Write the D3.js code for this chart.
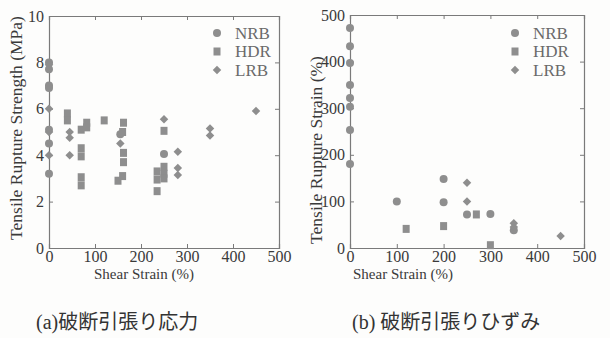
<!DOCTYPE html>
<html>
<head>
<meta charset="utf-8">
<script src="https://cdn.jsdelivr.net/npm/d3@7"></script>
<style>
  body { margin: 0; background: #fdfdfc; }
</style>
</head>
<body>
<div id="chart"></div>
<script>
// shear strain ticks shared by both panels
var shearTicks = [0, 100, 200, 300, 400, 500];
var strengthTicks = [0, 2, 4, 6, 8, 10];
var strainTicks = [0, 100, 200, 300, 400, 500];
var seriesNames = ["NRB", "HDR", "LRB"];

// (a) tensile rupture strength (MPa) vs shear strain (%)
var strengthNRB = [[0, 8.0], [0, 7.7], [0, 7.0], [0, 6.9], [0, 5.1], [0, 4.5], [0, 3.2], [155, 4.9], [250, 4.05]];
var strengthHDR = [[40, 5.8], [40, 5.5], [70, 5.1], [70, 4.3], [70, 3.95], [70, 3.05], [70, 2.7], [82, 5.4], [82, 5.2],
  [120, 5.5], [162, 5.4], [160, 5.0], [162, 4.1], [162, 3.7], [160, 3.1], [150, 2.9],
  [250, 5.05], [250, 3.5], [250, 3.2], [235, 3.3], [235, 2.95], [235, 2.45], [250, 3.0]];
var strengthLRB = [[0, 7.9], [0, 6.0], [0, 5.0], [0, 4.0], [45, 5.0], [45, 4.75], [45, 4.0], [155, 4.5],
  [250, 5.55], [280, 4.15], [280, 3.45], [280, 3.15], [350, 5.15], [350, 4.85], [450, 5.9]];

// (b) tensile rupture strain (%) vs shear strain (%)
var strainNRB = [[0, 472], [0, 433], [0, 397], [0, 350], [0, 322], [0, 303], [0, 253], [0, 180],
  [100, 100], [200, 148], [200, 98], [250, 72], [300, 73], [350, 38]];
var strainHDR = [[120, 41], [200, 47], [270, 72], [300, 6]];
var strainLRB = [[250, 140], [250, 100], [350, 53], [350, 45], [450, 26]];

var markerColor = "#8e8e8e";
var axisColor = "#7a7a7a";
var serif = "'Liberation Serif', 'Noto Sans CJK JP', serif";

var svg = d3.select("#chart").append("svg")
    .attr("width", 610)
    .attr("height", 338);

function drawMarker(g, type, x, y) {
  if (type == "NRB") {
    g.append("circle").attr("cx", x).attr("cy", y).attr("r", 4).attr("fill", markerColor);
  } else if (type == "HDR") {
    g.append("rect").attr("x", x - 3.5).attr("y", y - 4).attr("width", 7).attr("height", 8).attr("fill", markerColor);
  } else {
    var sym = d3.symbol().type(d3.symbolDiamond2).size(46);
    g.append("path").attr("d", sym()).attr("transform", "translate(" + x + "," + y + ")").attr("fill", markerColor);
  }
}

function drawPanel(opt) {
  var xScale = d3.scaleLinear().domain([0, 500]).range([opt.left, opt.right]);
  var yScale = d3.scaleLinear().domain([0, opt.yMax]).range([opt.bottom, opt.top]);
  var g = svg.append("g");

  // frame with inward ticks on all four sides
  g.append("g").attr("transform", "translate(0," + opt.bottom + ")")
    .call(d3.axisBottom(xScale).tickValues(shearTicks).tickSize(-4).tickPadding(3).tickFormat(d3.format("d")));
  g.append("g").attr("transform", "translate(0," + opt.top + ")")
    .call(d3.axisTop(xScale).tickValues(shearTicks).tickSize(-4).tickFormat(""));
  g.append("g").attr("transform", "translate(" + opt.left + ",0)")
    .call(d3.axisLeft(yScale).tickValues(opt.yTicks).tickSize(-4).tickPadding(5).tickFormat(d3.format("d")));
  g.append("g").attr("transform", "translate(" + opt.right + ",0)")
    .call(d3.axisRight(yScale).tickValues(opt.yTicks).tickSize(-4).tickFormat(""));

  g.selectAll(".domain").attr("stroke", axisColor).attr("stroke-width", 1.2);
  g.selectAll(".tick line").attr("stroke", axisColor);
  g.selectAll(".tick text").attr("font-size", "16px").attr("fill", "#3a3a3a");

  // axis titles
  g.append("text")
    .attr("x", opt.xTitleX).attr("y", opt.bottom + 31)
    .attr("text-anchor", "middle").attr("font-size", "15px").attr("fill", "#3a3a3a")
    .text("Shear Strain (%)");
  g.append("text")
    .attr("transform", "translate(" + opt.yTitleX + "," + opt.yTitleY + ") rotate(-90)")
    .attr("text-anchor", "middle").attr("font-size", "17.5px").attr("fill", "#3a3a3a")
    .text(opt.yTitle);

  // points
  var pts = g.append("g");
  opt.series.forEach(function(s, i) {
    s.forEach(function(d) {
      drawMarker(pts, seriesNames[i], xScale(d[0]), yScale(d[1]));
    });
  });

  // legend
  var leg = g.append("g");
  seriesNames.forEach(function(name, i) {
    var ly = opt.legendY + i * 18.5;
    drawMarker(leg, name, opt.legendX, ly);
    leg.append("text").attr("x", opt.legendX + 18).attr("y", ly + 5.5)
      .attr("font-size", "17px").attr("fill", "#6a6a6a").text(name);
  });

  svg.append("text").attr("class", "caption")
    .attr("x", opt.captionX).attr("y", 329)
    .attr("font-size", "20px").attr("fill", "#333")
    .text(opt.caption);
}

drawPanel({
  left: 49, right: 279, top: 16, bottom: 248,
  yMax: 10, yTicks: strengthTicks,
  yTitle: "Tensile Rupture Strength (MPa)", yTitleX: 22, yTitleY: 128,
  xTitleX: 144,
  series: [strengthNRB, strengthHDR, strengthLRB],
  legendX: 217, legendY: 33,
  caption: "(a)破断引張り応力", captionX: 36
});

drawPanel({
  left: 350, right: 584, top: 15, bottom: 248,
  yMax: 500, yTicks: strainTicks,
  yTitle: "Tensile Rupture Strain (%)", yTitleX: 322, yTitleY: 150,
  xTitleX: 403,
  series: [strainNRB, strainHDR, strainLRB],
  legendX: 515, legendY: 33,
  caption: "(b) 破断引張りひずみ", captionX: 352
});

// serif everywhere, CJK glyphs fall back to Noto
svg.selectAll("text").attr("font-family", null).style("font-family", serif);
svg.selectAll("g").attr("font-family", null);
</script>
</body>
</html>
